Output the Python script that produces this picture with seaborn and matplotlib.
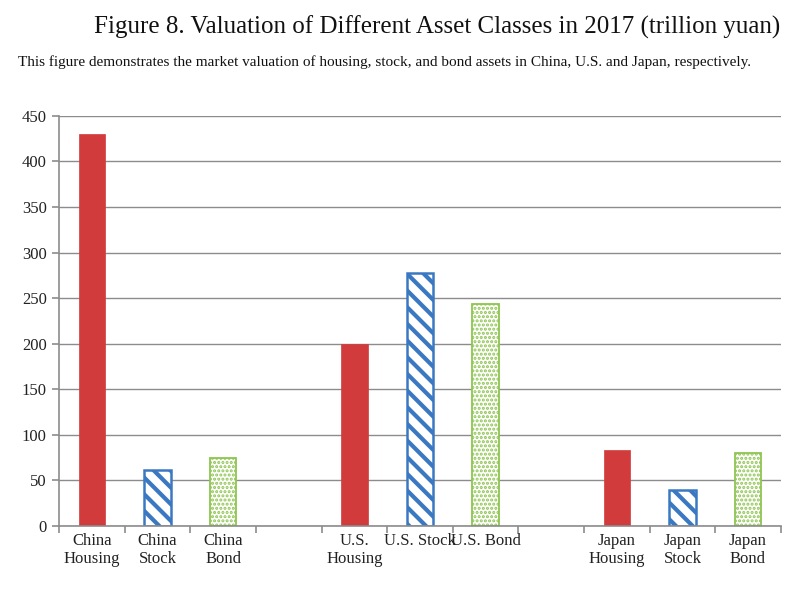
import numpy as np
import pandas as pd
import seaborn as sns
import matplotlib.pyplot as plt

# values (trillion yuan); blank slots separate countries
labels = ["China\nHousing", "China\nStock", "China\nBond", "",
          "U.S.\nHousing", "U.S. Stock", "U.S. Bond", " ",
          "Japan\nHousing", "Japan\nStock", "Japan\nBond"]
kinds = ["Housing", "Stock", "Bond", "Housing",
         "Housing", "Stock", "Bond", "Housing",
         "Housing", "Stock", "Bond"]
values = [430, 61, 75, np.nan,
          200, 278, 243, np.nan,
          83, 40, 80]

df = pd.DataFrame({"label": labels, "kind": kinds, "value": values})

sns.set_theme(style="white")
plt.rcParams["font.family"] = ["Liberation Serif", "DejaVu Serif"]

fig = plt.figure(figsize=(8, 5.97), dpi=100)
ax = fig.add_axes([0.074, 0.119, 0.902, 0.687])

sns.barplot(data=df, x="label", y="value", hue="kind", order=labels,
            hue_order=["Housing", "Stock", "Bond"], dodge=False, width=0.4,
            palette=["#d13b3b", "white", "white"], legend=False, ax=ax)

styles = {
    "Housing": dict(fc="#d13b3b", ec="#d13b3b", hatch=None, lw=0.5, hlw=1),
    "Stock": dict(fc="white", ec="#3b78c2", hatch="\\\\", lw=1.8, hlw=3.0),
    "Bond": dict(fc="white", ec="#8fc552", hatch="....", lw=1.3, hlw=1.5),
}
for cont, k in zip(ax.containers, ["Housing", "Stock", "Bond"]):
    st = styles[k]
    for p in cont.patches:
        p.set_facecolor(st["fc"])
        p.set_edgecolor(st["ec"])
        p.set_linewidth(st["lw"])
        if st["hatch"]:
            p.set_hatch(st["hatch"])
            if hasattr(p, "set_hatch_linewidth"):
                p.set_hatch_linewidth(st["hlw"])

ax.set_ylim(0, 450)
ax.set_yticks(range(0, 451, 50))
ax.set_xlim(-0.5, len(labels) - 0.5)
ax.yaxis.grid(True, color="#8c8c8c", lw=1)
ax.set_axisbelow(True)
for s in ["top", "right"]:
    ax.spines[s].set_visible(False)
for s in ["left", "bottom"]:
    ax.spines[s].set_color("#8c8c8c")
    ax.spines[s].set_linewidth(1.2)

ax.set_xlabel("")
ax.set_ylabel("")
ax.tick_params(axis="x", length=0, labelsize=12, pad=5, colors="#222222")
ax.tick_params(axis="y", length=5, width=1.2, color="#8c8c8c", labelsize=12,
               left=True, labelcolor="#222222", pad=4)
ax.set_xticks(np.arange(-0.5, len(labels)), minor=True)
ax.tick_params(axis="x", which="minor", length=5, width=1.2, color="#8c8c8c",
               bottom=True, direction="out")
for t in ax.get_xticklabels():
    t.set_linespacing(1.15)

fig.text(0.546, 0.955, "Figure 8. Valuation of Different Asset Classes in 2017 (trillion yuan)",
         ha="center", va="center", fontsize=18, color="#111111")
fig.text(0.022, 0.896, "This figure demonstrates the market valuation of housing, stock, and bond "
         "assets in China, U.S. and Japan, respectively.",
         ha="left", va="center", fontsize=11, color="#111111")

fig.savefig("out.png", dpi=100)
